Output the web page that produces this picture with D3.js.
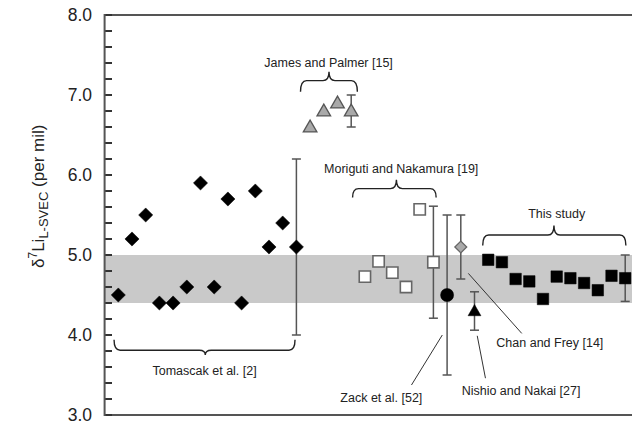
<!DOCTYPE html>
<html><head><meta charset="utf-8">
<script src="https://cdn.jsdelivr.net/npm/d3@7"></script>
<style>
html,body{margin:0;padding:0;background:#fff;}
svg{display:block;font-family:"Liberation Sans",Arial,Helvetica,sans-serif;}
</style></head>
<body>
<svg id="chart" width="632" height="424"></svg>
<script>
// ---- data ----
const yTicks = [3.0, 4.0, 5.0, 6.0, 7.0, 8.0];
const bandRange = [4.4, 5.0];

const tomascakValues = [4.5, 5.2, 5.5, 4.4, 4.4, 4.6, 5.9, 4.6, 5.7, 4.4, 5.8, 5.1, 5.4, 5.1];
const tomascakError = 1.1;          // on last point
const jamesValues = [6.6, 6.8, 6.9, 6.8];
const jamesError = 0.2;             // on last point
const morigutiValues = [4.73, 4.92, 4.78, 4.6, 5.57, 4.91];
const morigutiError = 0.7;          // on last point
const zackValues = [4.5];
const zackError = 1.0;
const chanValues = [5.1];
const chanError = 0.4;
const nishioValues = [4.3];
const nishioError = 0.24;
const thisStudyValues = [4.94, 4.91, 4.70, 4.67, 4.45, 4.73, 4.71, 4.65, 4.56, 4.74, 4.71];
const thisStudyError = 0.29;        // on last point

const groupLabels = ["Tomascak et al. [2]", "James and Palmer [15]", "Moriguti and Nakamura [19]",
  "Zack et al. [52]", "Chan and Frey [14]", "Nishio and Nakai [27]", "This study"];

// ---- build sequential index ----
const groups = [
  {key:"tom", values:tomascakValues, err:tomascakError},
  {key:"jam", values:jamesValues, err:jamesError},
  {key:"mor", values:morigutiValues, err:morigutiError},
  {key:"zac", values:zackValues, err:zackError},
  {key:"cha", values:chanValues, err:chanError},
  {key:"nis", values:nishioValues, err:nishioError},
  {key:"thi", values:thisStudyValues, err:thisStudyError}
];
let idx = 0;
const points = [];
groups.forEach(g => {
  g.start = idx;
  g.values.forEach((v, i) => {
    points.push({key:g.key, i:idx, v:v, last: i === g.values.length - 1, err:g.err});
    idx++;
  });
  g.end = idx - 1;
});

const svg = d3.select("#chart");
const x = d3.scaleLinear().domain([-1, 40]).range([104.6, 104.6 + 41 * 13.7]);
const y = d3.scaleLinear().domain([3, 8]).range([415, 15]);
const axisColor = "#555";

// band
svg.append("rect")
  .attr("x", x(-1)).attr("width", 640 - x(-1))
  .attr("y", y(bandRange[1])).attr("height", y(bandRange[0]) - y(bandRange[1]))
  .attr("fill", "#c9c9c9");

// frame lines
svg.append("line").attr("x1", x(-1)).attr("x2", 640).attr("y1", y(8)).attr("y2", y(8))
  .attr("stroke", axisColor).attr("stroke-width", 2);
svg.append("line").attr("x1", x(-1)).attr("x2", 640).attr("y1", y(3)).attr("y2", y(3))
  .attr("stroke", axisColor).attr("stroke-width", 2);

// y axis line + inward ticks
const minorTicks = d3.range(0, 26).map(k => 3 + k * 0.2);
const x0 = Math.round(x(-1));
svg.append("path")
  .attr("d", minorTicks.map(t => `M${x0},${Math.round(y(t))}h7`).join(""))
  .attr("fill", "none").attr("stroke", "#333").attr("stroke-width", 2);
svg.append("line").attr("x1", x(-1)).attr("x2", x(-1)).attr("y1", y(8) - 1).attr("y2", y(3) + 1)
  .attr("stroke", axisColor).attr("stroke-width", 2);

svg.append("g").selectAll("text").data(yTicks).join("text")
  .attr("x", 92).attr("y", d => y(d)).attr("dy", "0.36em")
  .attr("text-anchor", "end").attr("font-size", 17.5).attr("fill", "#222")
  .text(d => d.toFixed(1));

// y title (runs upward from bottom)
const title = svg.append("text")
  .attr("transform", `translate(44,268) rotate(-90)`)
  .attr("text-anchor", "start").attr("font-size", 17).attr("fill", "#222");
title.append("tspan").text("δ");
title.append("tspan").attr("font-size", 12).attr("dy", -7).text("7");
title.append("tspan").attr("dy", 7).text("Li");
title.append("tspan").attr("font-size", 13).attr("dy", 4).text("L-SVEC");
title.append("tspan").attr("dy", -4).text(" (per mil)");

// error bars
const errColor = "#555";
const errPts = points.filter(p => p.last);
const eb = svg.append("g");
errPts.forEach(p => {
  const cx = x(p.i), y1 = y(p.v + p.err), y2 = y(p.v - p.err);
  eb.append("line").attr("x1", cx).attr("x2", cx).attr("y1", y1).attr("y2", y2)
    .attr("stroke", errColor).attr("stroke-width", 1.5);
  [y1, y2].forEach(yy => eb.append("line").attr("x1", cx - 4.5).attr("x2", cx + 4.5)
    .attr("y1", yy).attr("y2", yy).attr("stroke", errColor).attr("stroke-width", 1.5));
});

// markers
const styles = {
  tom: {type:d3.symbolSquare, size:100, rot:45, fill:"#000", stroke:"#000", sw:0.5},
  jam: {type:d3.symbolTriangle, size:80, rot:0, fill:"#a9a9a9", stroke:"#555", sw:1.3},
  mor: {type:d3.symbolSquare, size:128, rot:0, fill:"#fff", stroke:"#666", sw:1.6},
  zac: {type:d3.symbolCircle, size:135, rot:0, fill:"#000", stroke:"#000", sw:0.5},
  cha: {type:d3.symbolSquare, size:70, rot:45, fill:"#aaa", stroke:"#666", sw:1.3},
  nis: {type:d3.symbolTriangle, size:72, rot:0, fill:"#000", stroke:"#000", sw:0.5},
  thi: {type:d3.symbolSquare, size:132, rot:0, fill:"#000", stroke:"#000", sw:0.5}
};
svg.append("g").selectAll("path").data(points).join("path")
  .attr("d", d => d3.symbol().type(styles[d.key].type).size(styles[d.key].size)())
  .attr("transform", d => `translate(${x(d.i)},${y(d.v) + (styles[d.key].type === d3.symbolTriangle ? 1 : 0)}) rotate(${styles[d.key].rot})`)
  .attr("fill", d => styles[d.key].fill)
  .attr("stroke", d => styles[d.key].stroke)
  .attr("stroke-width", d => styles[d.key].sw);

// braces
function brace(x1, x2, xm, yEnd, yMid, yTip) {
  const r = Math.min(6, (x2 - x1) / 6);
  return `M${x1},${yEnd} Q${x1},${yMid} ${x1 + r},${yMid} L${xm - r},${yMid} Q${xm},${yMid} ${xm},${yTip}` +
    ` Q${xm},${yMid} ${xm + r},${yMid} L${x2 - r},${yMid} Q${x2},${yMid} ${x2},${yEnd}`;
}
const braceG = svg.append("g").attr("fill", "none").attr("stroke", "#222").attr("stroke-width", 1.4);
const ann = svg.append("g").attr("font-size", 12.5).attr("fill", "#222").attr("text-anchor", "middle");

const gm = Object.fromEntries(groups.map(g => [g.key, g]));
// Tomascak: tip down
braceG.append("path").attr("d", brace(x(gm.tom.start - 0.31), x(gm.tom.end - 0.1), x(6.35), y(3.94), y(3.81), y(3.75)));
ann.append("text").attr("x", x(6.3)).attr("y", y(3.5)).text(groupLabels[0]);
// James: tip up
braceG.append("path").attr("d", brace(x(13.3), x(17.45), x(15.38), y(7.04), y(7.18), y(7.29)));
ann.append("text").attr("x", x(15.35)).attr("y", y(7.35)).text(groupLabels[1]);
// Moriguti
braceG.append("path").attr("d", brace(x(17.1), x(23.2), x(20.3), y(5.72), y(5.83), y(5.94)));
ann.append("text").attr("x", x(20.65)).attr("y", y(6.03)).text(groupLabels[2]);
// This study
braceG.append("path").attr("d", brace(x(26.6), x(37.05), x(31.8), y(5.12), y(5.25), y(5.37)));
ann.append("text").attr("x", x(32)).attr("y", y(5.46)).text(groupLabels[6]);

// leader lines & labels
const lead = svg.append("g").attr("stroke", "#333").attr("stroke-width", 1);
lead.append("line").attr("x1", x(21.4)).attr("y1", y(3.375)).attr("x2", x(23.65)).attr("y2", y(4.0));
ann.append("text").attr("x", x(19.2)).attr("y", y(3.166)).text(groupLabels[3]);
lead.append("line").attr("x1", x(25.55)).attr("y1", y(4.77)).attr("x2", x(29.45)).attr("y2", y(4.02));
ann.append("text").attr("x", x(31.5)).attr("y", y(3.85)).text(groupLabels[4]);
lead.append("line").attr("x1", x(26.8)).attr("y1", y(3.46)).attr("x2", x(26.2)).attr("y2", y(3.99));
ann.append("text").attr("x", x(29.4)).attr("y", y(3.25)).text(groupLabels[5]);
</script>
</body></html>
